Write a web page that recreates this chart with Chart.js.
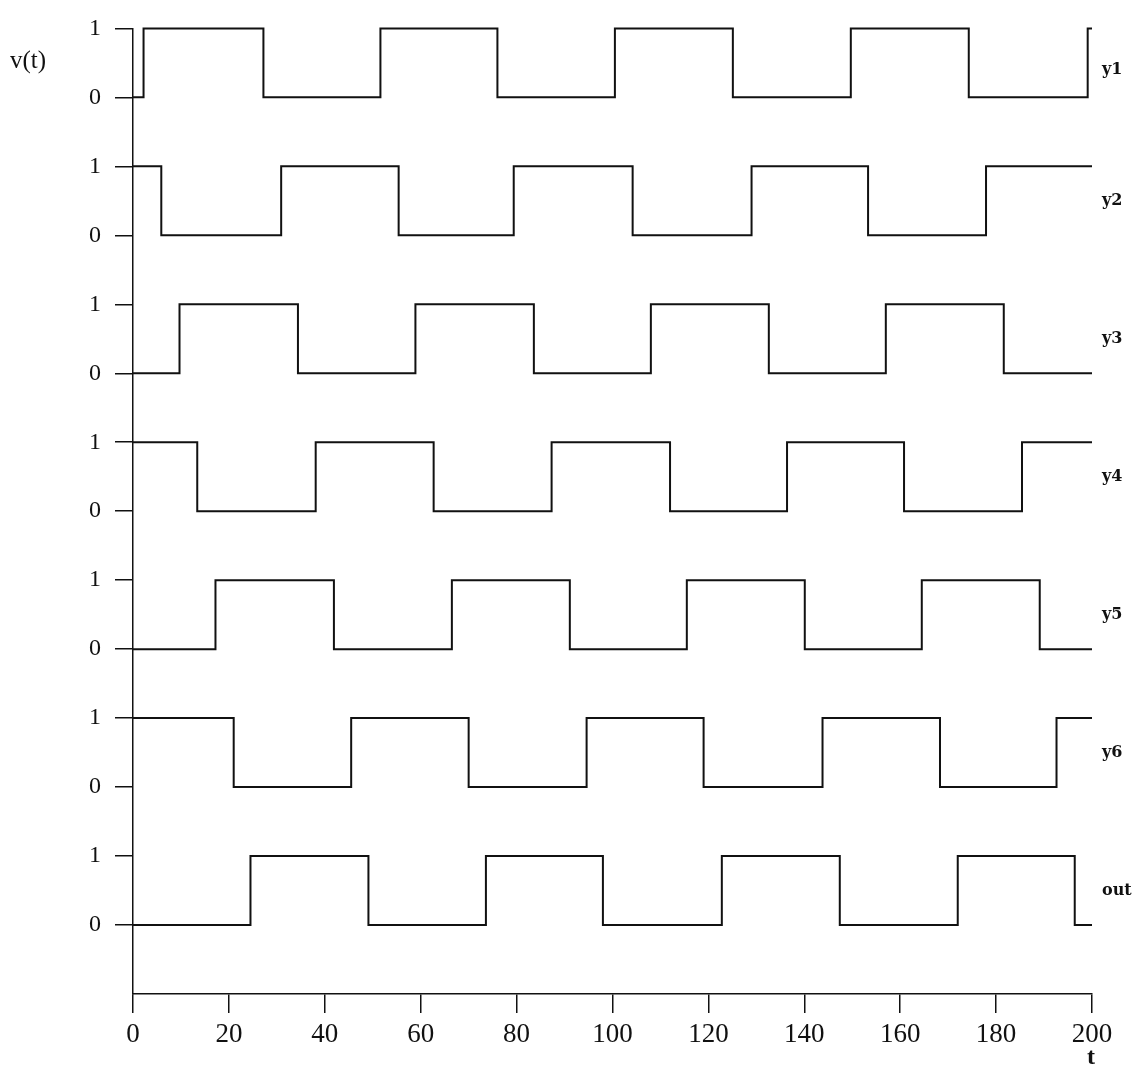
<!DOCTYPE html>
<html>
<head>
<meta charset="utf-8">
<script src="https://cdn.jsdelivr.net/npm/chart.js@4.4.1/dist/chart.umd.min.js"></script>
<style>
  html, body { margin: 0; padding: 0; background: #fff; }
</style>
</head>
<body>
<canvas id="chart-ring" width="1138" height="1069"></canvas>
<script>
// ring oscillator stages, top to bottom
const signalNames = ['y1', 'y2', 'y3', 'y4', 'y5', 'y6', 'out'];
const startLevels = [0, 1, 0, 1, 0, 1, 0];

// switching times of each stage (level toggles at every entry)
const edgesY1  = [2.2, 27.2, 51.6, 76.0, 100.5, 125.1, 149.7, 174.3, 199.1];
const edgesY2  = [5.9, 30.9, 55.4, 79.4, 104.2, 129.0, 153.3, 177.9];
const edgesY3  = [9.7, 34.4, 58.9, 83.6, 108.0, 132.6, 157.0, 181.6];
const edgesY4  = [13.4, 38.1, 62.7, 87.3, 112.0, 136.4, 160.8, 185.4];
const edgesY5  = [17.2, 41.9, 66.5, 91.1, 115.5, 140.1, 164.5, 189.1];
const edgesY6  = [21.0, 45.5, 70.0, 94.6, 119.0, 143.8, 168.3, 192.6];
const edgesOut = [24.5, 49.1, 73.6, 98.0, 122.8, 147.4, 172.0, 196.4];
const allEdges = [edgesY1, edgesY2, edgesY3, edgesY4, edgesY5, edgesY6, edgesOut];

const tStart = 0;
const tEnd = 200;
const tStep = 20;

const ink = '#111';
const serif = "'Liberation Serif', 'Times New Roman', serif";

// each trace sits two units above the one below it
function baseOf(i) { return (signalNames.length - 1 - i) * 2; }

function stepPoints(i) {
  const base = baseOf(i);
  let level = startLevels[i];
  const pts = [{ x: tStart, y: base + level }];
  allEdges[i].forEach(t => {
    level = 1 - level;
    pts.push({ x: t, y: base + level });
  });
  pts.push({ x: tEnd, y: base + level });
  return pts;
}

const datasets = signalNames.map((name, i) => ({
  label: name,
  data: stepPoints(i),
  stepped: true,
  borderColor: ink,
  borderWidth: 2,
  pointRadius: 0,
  fill: false,
  clip: false,
}));

const textPlugin = {
  id: 'traceText',
  afterDraw(chart) {
    const ctx = chart.ctx;
    const y = chart.scales.y;
    ctx.save();
    ctx.fillStyle = ink;

    ctx.font = '25px ' + serif;
    ctx.textAlign = 'left';
    ctx.textBaseline = 'middle';
    ctx.fillText('v(t)', 10, 61);

    ctx.font = 'bold 24px ' + serif;
    ctx.textAlign = 'center';
    ctx.fillText('t', 1091, 1058);

    ctx.font = "bold 16px 'DejaVu Serif', serif";
    ctx.textAlign = 'left';
    signalNames.forEach((name, i) => {
      const off = i === 0 ? 0.4 : 0.5;
      ctx.fillText(name, 1102, y.getPixelForValue(baseOf(i) + off));
    });
    ctx.restore();
  }
};

new Chart(document.getElementById('chart-ring'), {
  type: 'line',
  data: { datasets: datasets },
  options: {
    responsive: false,
    animation: false,
    layout: { padding: { left: 0, top: 28, right: 46, bottom: 0 } },
    plugins: {
      legend: { display: false },
      tooltip: { enabled: false },
    },
    scales: {
      x: {
        type: 'linear',
        min: tStart,
        max: tEnd,
        afterFit: s => { s.height = 75; },
        ticks: {
          stepSize: tStep,
          color: ink,
          padding: 6,
          maxRotation: 0,
          font: { family: serif, size: 27 },
        },
        grid: { drawOnChartArea: false, drawTicks: true, tickLength: 19, color: ink, lineWidth: 1.5 },
        border: { display: true, color: ink, width: 1.5 },
      },
      y: {
        type: 'linear',
        min: -1,
        max: 13,
        afterFit: s => { s.width = 133; },
        ticks: {
          stepSize: 1,
          color: ink,
          padding: 14,
          font: { family: serif, size: 24 },
          callback: v => (v < 0 ? '' : String(v % 2)),
        },
        grid: {
          drawOnChartArea: false,
          drawTicks: true,
          tickLength: 18,
          lineWidth: 1.5,
          color: c => (c.tick && c.tick.value < 0 ? 'rgba(0,0,0,0)' : ink),
        },
        border: { display: true, color: ink, width: 1.5 },
      },
    },
  },
  plugins: [textPlugin],
});
</script>
</body>
</html>
